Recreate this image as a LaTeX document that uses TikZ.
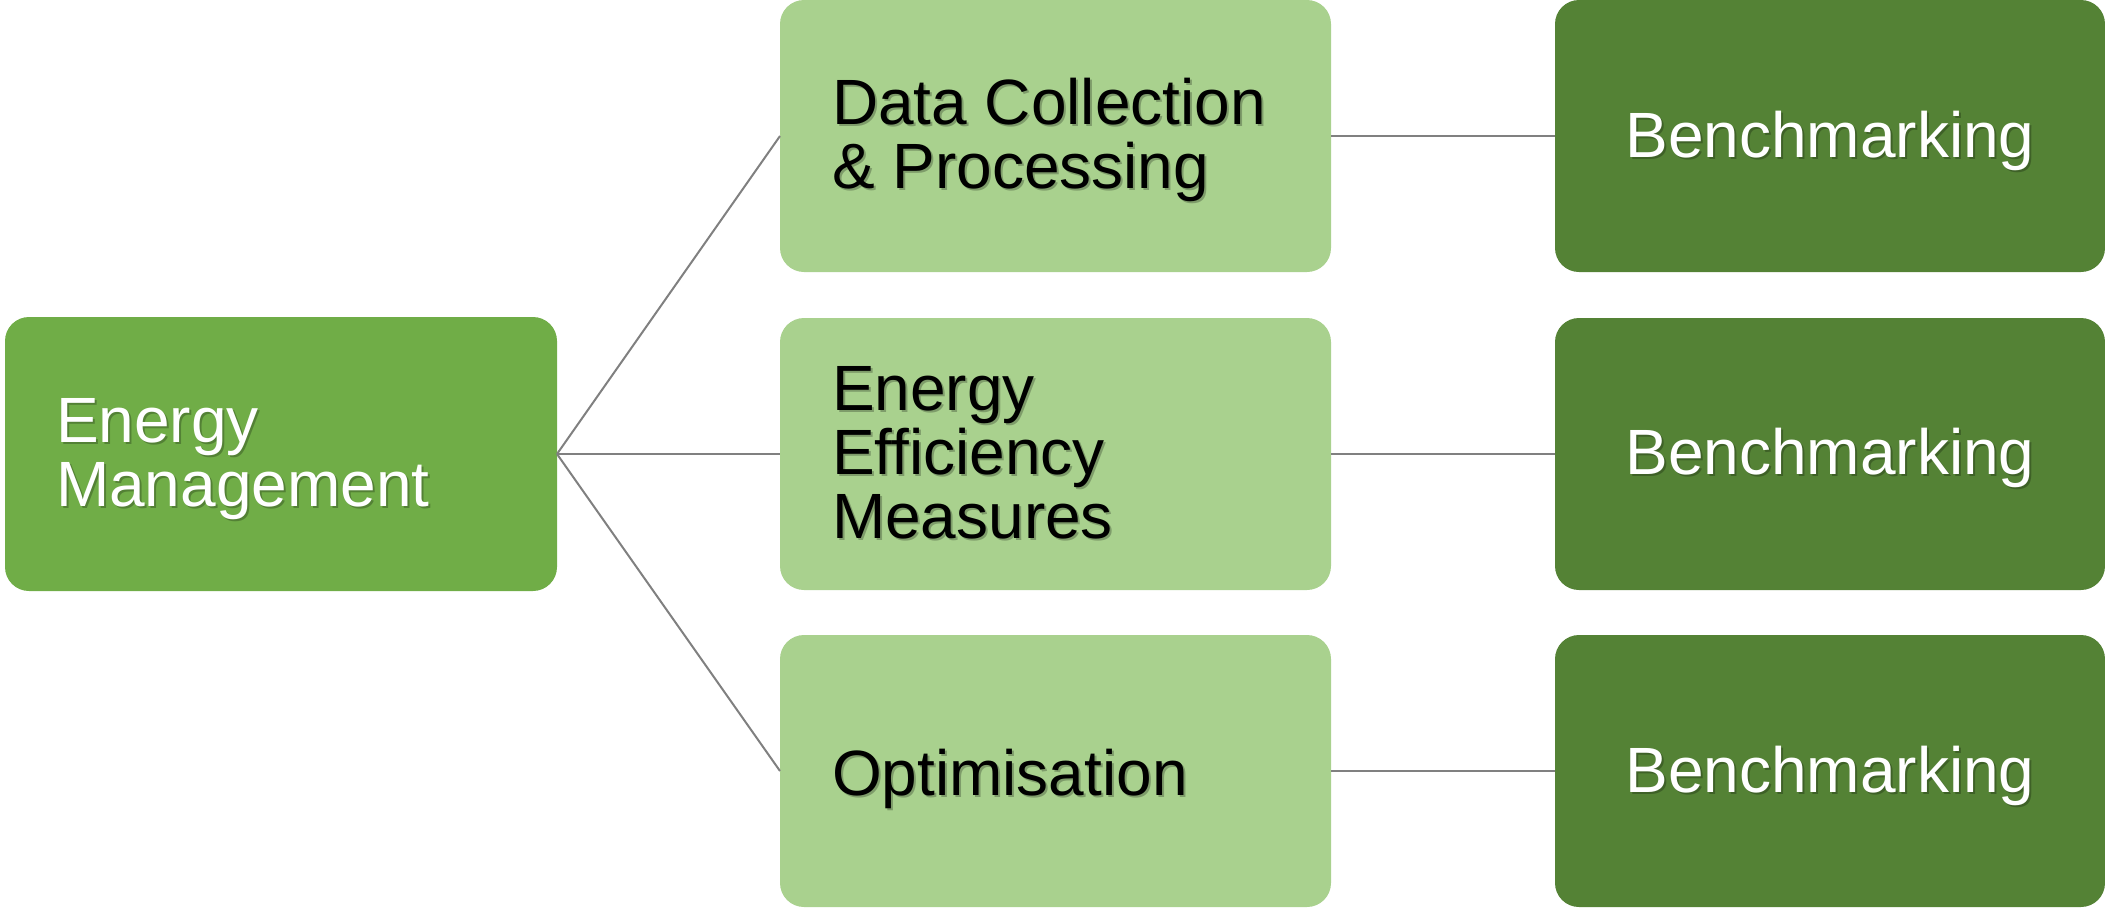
\documentclass[tikz,border=0pt]{standalone}
\usepackage{fontspec}
\setmainfont{Liberation Sans}
\definecolor{gmain}{HTML}{70AD47}
\definecolor{glight}{HTML}{A9D18E}
\definecolor{gdark}{HTML}{548235}
\definecolor{linegray}{HTML}{808080}
\begin{document}
\begin{tikzpicture}[x=0.5pt,y=-0.5pt,
  boxbase/.style={rectangle, rounded corners=12pt, inner sep=0pt, outer sep=0pt, draw=none},
  rootbox/.style={boxbase, fill=gmain, minimum width=276pt, minimum height=137pt},
  midbox/.style={boxbase, fill=glight, minimum width=275.5pt, minimum height=136pt},
  rightbox/.style={boxbase, fill=gdark, minimum width=275pt, minimum height=136pt},
  txt/.style={inner sep=0pt, outer sep=0pt, align=left, font=\fontsize{32pt}{32pt}\selectfont},
  wtxt/.style={txt, text=white},
  btxt/.style={txt, text=black},
  shtxt/.style={txt, text=black, opacity=0.25},
  conn/.style={draw=linegray, line width=1pt}
]
\useasboundingbox (0,0) rectangle (2105,907);
% boxes
\node[rootbox] (em) at (281,454) {};
\node[midbox] (dcp) at (1055.5,136) {};
\node[midbox] (eem) at (1055.5,454) {};
\node[midbox] (opt) at (1055.5,771) {};
\node[rightbox] (b1) at (1830,136) {};
\node[rightbox] (b2) at (1830,454) {};
\node[rightbox] (b3) at (1830,771) {};
% connectors
\draw[conn] (em.east) -- (dcp.west);
\draw[conn] (em.east) -- (eem.west);
\draw[conn] (em.east) -- (opt.west);
\draw[conn] (dcp.east) -- (b1.west);
\draw[conn] (eem.east) -- (b2.west);
\draw[conn] (opt.east) -- (b3.west);
% texts with soft shadows (base anchor = baseline of last line)
\node[shtxt, anchor=base west] (emS) at (58,508) {Energy\\Management};
\node[wtxt, anchor=base west] (emT) at (56,506) {Energy\\Management};
\node[shtxt, anchor=base west] (dcpS) at (834,190) {Data Collection\\\& Processing};
\node[btxt, anchor=base west] (dcpT) at (832,188) {Data Collection\\\& Processing};
\node[shtxt, anchor=base west] (eemS) at (834,540) {Energy\\Efficiency\\Measures};
\node[btxt, anchor=base west] (eemT) at (832,538) {Energy\\Efficiency\\Measures};
\node[shtxt, anchor=base west] (optS) at (834,797) {Optimisation};
\node[btxt, anchor=base west] (optT) at (832,795) {Optimisation};
\node[shtxt, anchor=base] (b1S) at (1832,159) {Benchmarking};
\node[wtxt, anchor=base] (b1T) at (1830,157) {Benchmarking};
\node[shtxt, anchor=base] (b2S) at (1832,476) {Benchmarking};
\node[wtxt, anchor=base] (b2T) at (1830,474) {Benchmarking};
\node[shtxt, anchor=base] (b3S) at (1832,794) {Benchmarking};
\node[wtxt, anchor=base] (b3T) at (1830,792) {Benchmarking};
\end{tikzpicture}
\end{document}
